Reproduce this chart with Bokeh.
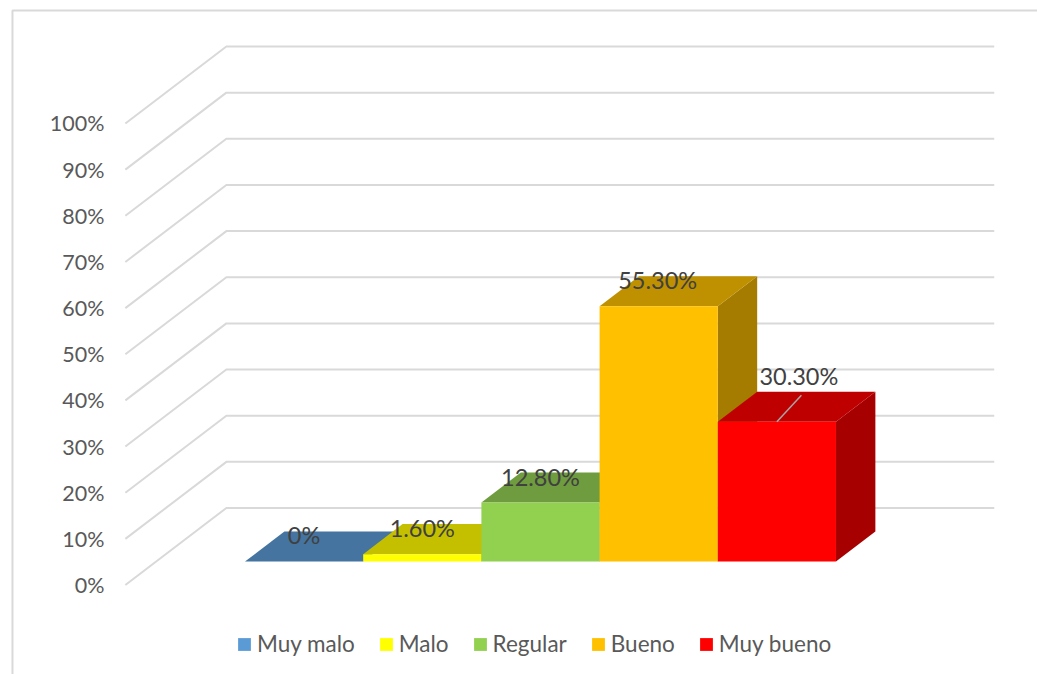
from bokeh.embed import file_html
from bokeh.resources import INLINE
from bokeh.plotting import figure
from bokeh.models import FixedTicker, Legend, LegendItem, Range1d, CustomJSTickFormatter
from bokeh.core.properties import value

# ---- data -------------------------------------------------------------
categories = ["Muy malo", "Malo", "Regular", "Bueno", "Muy bueno"]
percent = [0, 1.6, 12.8, 55.3, 30.3]
labels = ["0%", "1.60%", "12.80%", "55.30%", "30.30%"]
y_ticks = [0, 10, 20, 30, 40, 50, 60, 70, 80, 90, 100]

# ---- colours ----------------------------------------------------------
front_col = ["#5b9bd5", "#ffff00", "#92d050", "#ffc000", "#ff0000"]
top_col = ["#44749f", "#c4c000", "#6f9c3e", "#bf9000", "#bf0000"]
side_col = ["#3a6288", "#a6a600", "#5e8434", "#a67c00", "#a60000"]
grid_col = "#d9d9d9"
text_col = "#595959"
label_col = "#404040"
font = "Lato"

# ---- projection of the 3-D box ----------------------------------------
DX = 0.8545        # category units per unit depth
DY = 16.685        # percent units per unit depth
BAR_D0, BAR_D1 = 0.305, 0.695
WALL_L, WALL_R = -0.7515, 5.745
AXIS_X = -0.8605


def proj(x, v, d):
    return x + d * DX, v + d * DY


p = figure(width=1037, height=674, output_backend="svg", toolbar_location=None,
           x_range=Range1d(-1.8079, 6.9655), y_range=Range1d(-19.39, 126.65),
           min_border_left=0, min_border_right=0, min_border_top=0, min_border_bottom=0,
           x_axis_location=None, tools="")
p.outline_line_color = None
p.background_fill_color = "#ffffff"
p.grid.visible = False

# y axis sits inside the plot area, on the front edge of the box
ax = p.yaxis[0]
ax.fixed_location = AXIS_X
ax.ticker = FixedTicker(ticks=y_ticks)
ax.formatter = CustomJSTickFormatter(code="return tick + '%';")
ax.axis_line_color = None
ax.major_tick_line_color = None
ax.minor_tick_line_color = None
ax.major_tick_out = 0
ax.major_label_standoff = 8
ax.major_label_text_font = font
ax.major_label_text_font_size = "21.5px"
ax.major_label_text_color = text_col

# outer chart frame (runs off the page to the right and bottom)
p.line([-1.7065, -1.7065, 8], [-30, 124.47, 124.47], line_color=grid_col, line_width=2)

# walls: floor-side diagonal then back-wall gridline
for t in y_ticks:
    a = proj(WALL_L, t, 0)
    b = proj(WALL_L, t, 1)
    c = proj(WALL_R, t, 1)
    p.line([a[0], b[0], c[0]], [a[1], b[1], c[1]], line_color=grid_col, line_width=2)

# bars
items = []
for i, (name, v) in enumerate(zip(categories, percent)):
    x0, x1 = i, i + 1
    side = [proj(x1, 0, BAR_D0), proj(x1, 0, BAR_D1), proj(x1, v, BAR_D1), proj(x1, v, BAR_D0)]
    p.patch([q[0] for q in side], [q[1] for q in side], fill_color=side_col[i], line_color=None)
    top = [proj(x0, v, BAR_D0), proj(x1, v, BAR_D0), proj(x1, v, BAR_D1), proj(x0, v, BAR_D1)]
    p.patch([q[0] for q in top], [q[1] for q in top], fill_color=top_col[i], line_color=None)
    l, b = proj(x0, 0, BAR_D0)
    r, t = proj(x1, v, BAR_D0)
    rend = p.quad(left=[l], right=[r], bottom=[b], top=[t], fill_color=front_col[i], line_color=None)
    items.append(LegendItem(label=name, renderers=[rend]))

# leader line of the last label
lead = proj(4.5, percent[4], BAR_D0)
p.segment(x0=[lead[0]], y0=[lead[1]], x1=[lead[0] + 24.5 / 118.2], y1=[lead[1] + 26.5 / 4.615],
          line_color="#a6a6a6", line_width=1.5)

# data labels
lx, ly = [], []
for i, v in enumerate(percent):
    lx.append(proj(i + 0.5, v, BAR_D0)[0])
    ly.append(proj(i + 0.5, v, BAR_D1)[1])
x_off = [0, 0, 0, -1, 22]
y_off = [4, 4, 5, 4, -16]
p.text(x=lx, y=ly, text=labels, x_offset=x_off, y_offset=y_off, text_align="center", text_baseline="middle",
       text_font=value(font), text_font_size="23.5px", text_color=label_col)

# legend
leg = Legend(items=items, orientation="horizontal", location=(236, 17), margin=0, padding=0,
             spacing=23, label_standoff=5, glyph_width=16, glyph_height=16,
             label_text_font=font, label_text_font_size="22.5px", label_text_color=text_col,
             background_fill_alpha=0, border_line_color=None)
p.add_layout(leg, "center")

open("out.html", "w").write(file_html(p, INLINE))
